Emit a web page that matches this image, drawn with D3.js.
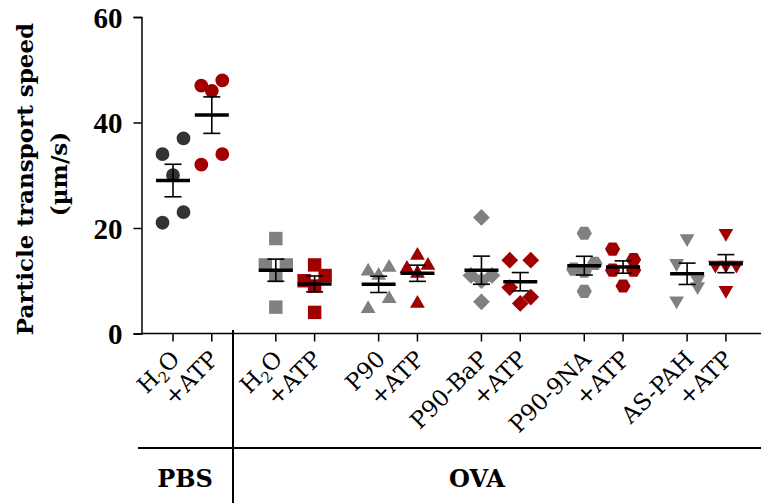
<!DOCTYPE html>
<html>
<head>
<meta charset="utf-8">
<script src="https://cdn.jsdelivr.net/npm/d3@7"></script>
<style>
  body { margin: 0; background: #fff; }
  svg text { font-family: "DejaVu Serif", "Liberation Serif", serif; }
</style>
</head>
<body>
<svg id="chart" width="761" height="503"></svg>
<script>
// Data (um/s), one array per group
const groups = ["H2O", "+ATP", "H2O", "+ATP", "P90", "+ATP", "P90-BaP", "+ATP", "P90-9NA", "+ATP", "AS-PAH", "+ATP"];
const pbsH2O     = [37, 34, 30, 23, 21];
const pbsATP     = [48, 47, 46, 34, 32];
const ovaH2O     = [18, 13, 13, 11, 5];
const ovaATP     = [13, 11, 10, 9, 4];
const p90        = [12.5, 11.8, 11, 6.6, 4.7];
const p90ATP     = [14.8, 12.9, 12.3, 11.4, 5.7];
const p90BaP     = [22, 11, 11, 10, 6];
const p90BaPATP  = [13.9, 13.9, 8.7, 6.9, 5.7];
const p909NA     = [19, 13.3, 12.2, 11.8, 8];
const p909NAATP  = [16, 14, 12, 12, 9];
const asPAH      = [18, 13.3, 10.2, 8.9, 6.2];
const asPAHATP   = [19, 13, 13, 13, 8.2];
const yTicks = [0, 20, 40, 60];

const seriesValues = [pbsH2O, pbsATP, ovaH2O, ovaATP, p90, p90ATP, p90BaP, p90BaPATP, p909NA, p909NAATP, asPAH, asPAHATP];

// layout: horizontal spread of overlapping points (in marker steps)
const spread = [
  [1, -1, 0, 1, -1], [1, -1, 0, 1, -1], [0, -1, 1, 0, 0], [0, 1, -1, 0, 0],
  [1, -1, 0, 1, -1], [0, 1, -1, 0, 0], [0, -1, 1, 0, 0], [-1, 1, -1, 1, 0],
  [0, 1, -1, 0, 0], [-1, 1, -1, 1, 0], [0, -1, 1, 1, -1], [0, -1, 0, 1, 0]
];

const dark = "#333333", red = "#a00000", grey = "#808080";

// custom hexagon symbol
const symbolHexagon = {
  draw(context, size) {
    const r = Math.sqrt(size / (1.5 * Math.sqrt(3)));
    for (let i = 0; i < 6; i++) {
      const a = Math.PI / 3 * i;
      const x = r * Math.cos(a), y = r * Math.sin(a);
      if (i === 0) context.moveTo(x, y); else context.lineTo(x, y);
    }
    context.closePath();
  }
};

const markerOf = i => {
  const g = Math.floor(i / 2);
  if (g === 0) return { type: d3.symbolCircle, size: 150, rot: 0 };
  if (g === 1) return { type: d3.symbolSquare, size: 180, rot: 0 };
  if (g === 2) return { type: d3.symbolTriangle, size: 95, rot: 0 };
  if (g === 3) return { type: d3.symbolSquare, size: 140, rot: 45 };
  if (g === 4) return { type: symbolHexagon, size: 150, rot: 0 };
  return { type: d3.symbolTriangle, size: 95, rot: 180 };
};
const colorOf = i => i === 0 ? dark : (i % 2 === 1 ? red : grey);

const svg = d3.select("#chart");

const y = d3.scaleLinear().domain([0, 60]).range([333.5, 17]);
// one unit = distance between a group and its +ATP partner
const x = d3.scaleLinear().domain([0, 1]).range([173, 211.8]);
const slot = i => Math.floor(i / 2) * 2.65 + (i % 2);
const step = 10.5;

// y axis
const yAxis = svg.append("g")
  .attr("transform", "translate(141.5,0)")
  .call(d3.axisLeft(y).tickValues(yTicks).tickSize(8).tickPadding(11));
yAxis.select(".domain").attr("stroke", "#000").attr("stroke-width", 1.5);
yAxis.selectAll(".tick line").attr("stroke-width", 1.5);
yAxis.selectAll(".tick text")
  .style("font-family", "'Liberation Serif', serif")
  .style("font-size", "29px").style("font-weight", "bold").attr("dy", "0.36em");

// x axis baseline + ticks
svg.append("line").attr("x1", 141).attr("x2", 761)
  .attr("y1", y(0)).attr("y2", y(0)).attr("stroke", "#000").attr("stroke-width", 1.5);
svg.selectAll(".xtick").data(groups).enter().append("line")
  .attr("x1", (d, i) => x(slot(i))).attr("x2", (d, i) => x(slot(i)))
  .attr("y1", y(0)).attr("y2", y(0) + 8)
  .attr("stroke", "#000").attr("stroke-width", 1.5);

// rotated category labels
const labels = svg.selectAll(".xlab").data(groups).enter().append("text")
  .attr("text-anchor", "end")
  .attr("transform", (d, i) => `translate(${x(slot(i)) + 8},${y(0) + 27}) rotate(-45)`)
  .style("font-size", "23px");
labels.each(function(d) {
  const t = d3.select(this);
  if (d === "H2O") {
    t.append("tspan").text("H");
    t.append("tspan").text("2").style("font-size", "15px").attr("dy", "5");
    t.append("tspan").text("O").attr("dy", "-5");
  } else {
    t.text(d);
  }
});

// y label
svg.append("text")
  .attr("transform", "translate(33,179) rotate(-90)")
  .attr("text-anchor", "middle")
  .style("font-size", "23px").style("font-weight", "bold")
  .text("Particle transport speed");
svg.append("text")
  .attr("transform", "translate(67,174) rotate(-90)")
  .attr("text-anchor", "middle")
  .style("font-size", "23px").style("font-weight", "bold")
  .text("(µm/s)");

// treatment bracket lines
svg.append("line").attr("x1", 138).attr("x2", 761).attr("y1", 448).attr("y2", 448)
  .attr("stroke", "#000").attr("stroke-width", 2);
svg.append("line").attr("x1", 233).attr("x2", 233).attr("y1", 330).attr("y2", 503)
  .attr("stroke", "#000").attr("stroke-width", 2);
svg.append("text").attr("x", 185).attr("y", 487).attr("text-anchor", "middle")
  .style("font-size", "24px").style("font-weight", "bold").text("PBS");
svg.append("text").attr("x", 477).attr("y", 487).attr("text-anchor", "middle")
  .style("font-size", "24px").style("font-weight", "bold").text("OVA");

// points
seriesValues.forEach((vals, i) => {
  const m = markerOf(i);
  svg.append("g").selectAll("path").data(vals).enter().append("path")
    .attr("d", d3.symbol().type(m.type).size(m.size))
    .attr("transform", (d, j) => `translate(${x(slot(i)) + spread[i][j] * step},${y(d)}) rotate(${m.rot})`)
    .attr("fill", colorOf(i));
});

// mean and SEM
seriesValues.forEach((vals, i) => {
  const cx = x(slot(i));
  const mean = d3.mean(vals);
  const sem = d3.deviation(vals) / Math.sqrt(vals.length);
  const g = svg.append("g").attr("stroke", "#000");
  g.append("line").attr("x1", cx).attr("x2", cx).attr("y1", y(mean + sem)).attr("y2", y(mean - sem))
    .attr("stroke-width", 1.6);
  [mean + sem, mean - sem].forEach(v => {
    g.append("line").attr("x1", cx - 8.5).attr("x2", cx + 8.5).attr("y1", y(v)).attr("y2", y(v))
      .attr("stroke-width", 1.6);
  });
  g.append("line").attr("x1", cx - 17).attr("x2", cx + 17).attr("y1", y(mean)).attr("y2", y(mean))
    .attr("stroke-width", 3.5);
});
</script>
</body>
</html>
